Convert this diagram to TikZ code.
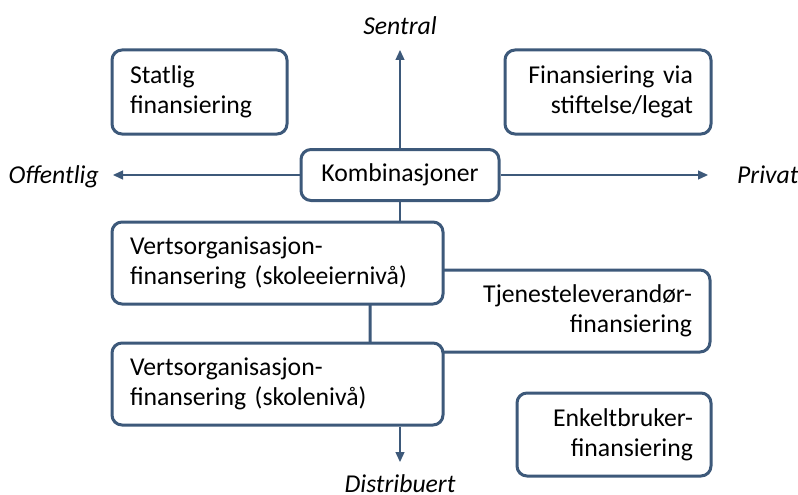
\documentclass[tikz,border=0pt]{standalone}
\usepackage{fontspec}
\setmainfont{Carlito}
\usetikzlibrary{arrows.meta}
\definecolor{slate}{RGB}{61,89,122}

\begin{document}
\begin{tikzpicture}[x=1pt, y=-1pt,
    box/.style={draw=slate, line width=3pt, rounded corners=10pt, fill=white,
                inner xsep=18pt, inner ysep=0pt, font=\fontsize{25.7}{30}\selectfont},
    axis/.style={draw=slate, line width=1.3pt, -{Triangle[length=10pt,width=9pt]}},
    axisline/.style={draw=slate, line width=1.3pt},
    axislabel/.style={inner sep=0pt, font=\fontsize{25.7}{30}\selectfont\itshape}]
    \useasboundingbox (0,0) rectangle (798,495);
 % Quadrant boxes
    \node[box, minimum width=175, minimum height=84, text width=139, align=left] (statlig) at (199.5,92) {Statlig\\finansiering};
    \node[box, minimum width=206, minimum height=84, text width=170, align=right] (stiftelse) at (608,92) {Finansiering via\\stiftelse/legat};
    \node[box, minimum width=198, minimum height=51] (kombi) at (400,175) {Kombinasjoner};
 % Tjeneste box sits behind the host organisation boxes
    \node[box, minimum width=340, minimum height=82, text width=304, align=right] (tjeneste) at (540,311) {Tjenesteleverandør-\\finansiering};
    \node[box, minimum width=331, minimum height=82, text width=295, align=left] (eier) at (277.5,263) {Vertsorganisasjon-\\finansering (skoleeiernivå)};
    \node[box, minimum width=331, minimum height=82, text width=295, align=left] (skole) at (277.5,384) {Vertsorganisasjon-\\finansering (skolenivå)};
    \node[box, minimum width=194, minimum height=83, text width=158, align=right] (enkelt) at (614,434.5) {Enkeltbruker-\\finansiering};
 % Axis ends and labels
    \coordinate (westtip) at (113,175);
    \coordinate (easttip) at (708,175);
    \coordinate (northtip) at (400,50);
    \coordinate (southtip) at (400,462);
    \node[axislabel, anchor=base east] (offentlig) at (99,183) {Offentlig};
    \node[axislabel, anchor=base west] (privat) at (737,183) {Privat};
    \node[axislabel, anchor=base] (sentral) at (400,35) {Sentral};
    \node[axislabel, anchor=base] (distribuert) at (400,492) {Distribuert};
 % Axes
    \draw[axis] (kombi.west) -- (westtip);
    \draw[axis] (kombi.east) -- (easttip);
    \draw[axis] (kombi.north) -- (northtip);
    \draw[axisline] (kombi.south) -- (kombi.south |- eier.north);
    \draw[axis] (skole.south -| kombi) -- (southtip);
\end{tikzpicture}
\end{document}
